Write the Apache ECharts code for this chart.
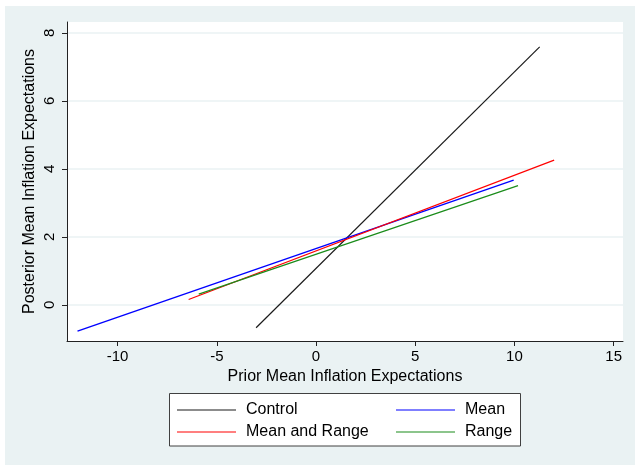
<!DOCTYPE html>
<html>
<head>
<meta charset="utf-8">
<script src="https://cdn.jsdelivr.net/npm/echarts@6/dist/echarts.min.js"></script>
<style>
  html, body { margin: 0; padding: 0; background: #fff; }
  #chart { width: 635px; height: 465px; }
</style>
</head>
<body>
<div id="chart"></div>
<script>
// fitted lines, endpoints
const controlX = [-3.02, 11.27];
const controlY = [-0.67, 7.59];
const meanX = [-12.02, 9.96];
const meanY = [-0.77, 3.67];
const meanRangeX = [-6.42, 12.0];
const meanRangeY = [0.16, 4.26];
const rangeX = [-5.91, 10.18];
const rangeY = [0.32, 3.51];

const xTicks = [-10, -5, 0, 5, 10, 15];
const yTicks = [0, 2, 4, 6, 8];

const font = 'Liberation Sans, Arial, sans-serif';

function pts(xs, ys) {
  return xs.map((x, i) => [x, ys[i]]);
}

function lineSeries(name, xs, ys, color, width) {
  return {
    name: name,
    type: 'line',
    data: pts(xs, ys),
    showSymbol: false,
    symbol: 'none',
    lineStyle: { color: color, width: width },
    itemStyle: { color: color },
    animation: false,
  };
}

const chart = echarts.init(document.getElementById('chart'));

const legendBase = {
  orient: 'vertical',
  icon: 'rect',
  itemWidth: 59,
  itemHeight: 1,
  itemGap: 6,
  textStyle: { fontFamily: font, fontSize: 16, color: '#000', padding: [0, 0, 0, 5], lineHeight: 16 },
  padding: 0,
};

const options = {
  backgroundColor: '#fff',
  animation: false,
  graphic: [
    { type: 'rect', shape: { x: 5, y: 6, width: 640, height: 470 }, style: { fill: '#eaf2f3' }, z: -10 },
    { type: 'rect', shape: { x: 67, y: 22, width: 556, height: 319 }, style: { fill: '#fff' }, z: -9 },
    { type: 'rect', shape: { x: 169.5, y: 393.5, width: 351, height: 52.5 }, style: { fill: '#fff', stroke: '#404040', lineWidth: 1 }, z: -8 },
  ],
  legend: [
    Object.assign({}, legendBase, { left: 177, top: 402, data: ['Control', 'Mean and Range'] }),
    Object.assign({}, legendBase, { left: 396, top: 402, data: ['Mean', 'Range'] }),
  ],
  grid: {
    left: 67,
    right: 12,
    top: 22,
    bottom: 124,
  },
  xAxis: {
    type: 'value',
    min: -12.55,
    max: 15.47,
    name: 'Prior Mean Inflation Expectations',
    nameLocation: 'middle',
    nameGap: 26,
    nameTextStyle: { fontFamily: font, fontSize: 16, color: '#000' },
    axisLine: { onZero: false, lineStyle: { color: '#222', width: 1 } },
    axisTick: { show: true, length: 5, customValues: xTicks, lineStyle: { color: '#222' } },
    axisLabel: { customValues: xTicks, margin: 8, fontFamily: font, fontSize: 15, color: '#000' },
    splitLine: { show: false },
  },
  yAxis: {
    type: 'value',
    min: -1.06,
    max: 8.32,
    name: 'Posterior Mean Inflation Expectations',
    nameLocation: 'middle',
    nameRotate: 90,
    nameGap: 29,
    nameMoveOverlap: false,
    nameTextStyle: { fontFamily: font, fontSize: 16, color: '#000' },
    axisLine: { show: true, onZero: false, lineStyle: { color: '#222', width: 1 } },
    axisTick: { show: true, length: 5, customValues: yTicks, lineStyle: { color: '#222' } },
    axisLabel: { customValues: yTicks, rotate: 90, margin: 10, fontFamily: font, fontSize: 15, color: '#000' },
    splitLine: { show: true, customValues: yTicks, lineStyle: { color: '#eaf2f3', width: 1.5 } },
  },
  series: [
    lineSeries('Control', controlX, controlY, '#1a1a1a', 1.2),
    lineSeries('Mean', meanX, meanY, '#0000ff', 1.4),
    lineSeries('Mean and Range', meanRangeX, meanRangeY, '#ff0000', 1.2),
    lineSeries('Range', rangeX, rangeY, '#1a8c1a', 1.2),
  ],
};

chart.setOption(options);
</script>
</body>
</html>
